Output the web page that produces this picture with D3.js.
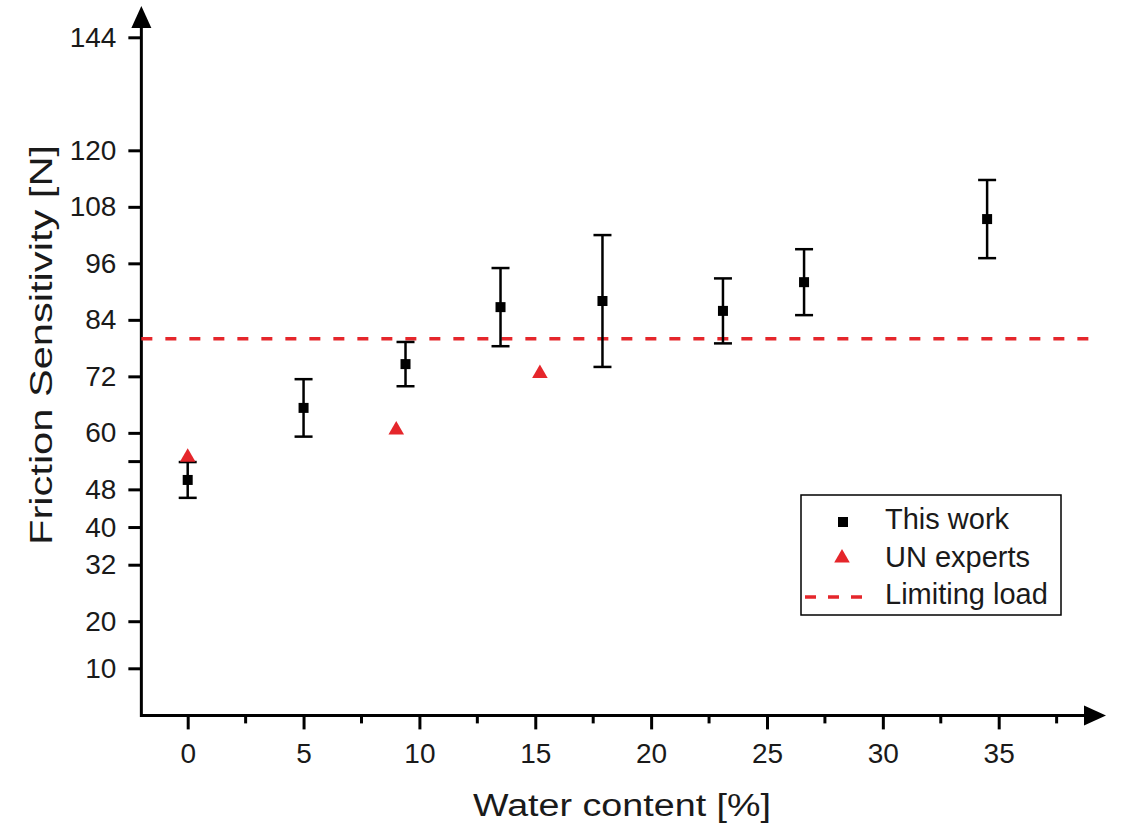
<!DOCTYPE html>
<html>
<head>
<meta charset="utf-8">
<title>Friction sensitivity</title>
<script src="https://d3js.org/d3.v7.min.js"></script>
<style>
  body { margin: 0; background: #fff; }
  text { font-family: "Liberation Sans", Arial, sans-serif; fill: #1a1a1a; }
  .tick text { font-size: 28px; }
  .title { font-size: 31px; }
  .leg { font-size: 29px; }
</style>
</head>
<body>
<script>
// this work: water content, mean load, error (+/-)
var workX = [0, 5, 9.4, 13.5, 17.9, 23.1, 26.6, 34.5];
var workY = [50, 65.3, 74.6, 86.7, 88, 85.9, 92, 105.4];
var workErr = [3.8, 6.1, 4.7, 8.3, 14, 6.9, 7, 8.3];
// UN experts
var unX = [0, 9, 15.2];
var unY = [54.8, 60.6, 72.6];
var limitLoad = 80;
var yTicks = [10, 20, 32, 40, 48, 54, 60, 72, 84, 96, 108, 120, 144];
var xTicks = [0, 5, 10, 15, 20, 25, 30, 35];
var xMinor = [2.5, 7.5, 12.5, 17.5, 22.5, 27.5, 32.5, 37.5];
var legendNames = ["This work", "UN experts", "Limiting load"];

var width = 1121, height = 830;
var red = "#e5262b";
var svg = d3.select("body").append("svg").attr("width", width).attr("height", height);

var x = d3.scaleLinear().domain([0, 35]).range([187.7, 998.7]);
var y = d3.scaleLinear().domain([0, 144]).range([715.4, 37.3]);
var x0 = x(-2), yBase = y(0);

// axes lines + arrows
svg.append("line").attr("x1", x0).attr("x2", 1088).attr("y1", yBase).attr("y2", yBase)
  .attr("stroke", "#000").attr("stroke-width", 3);
svg.append("line").attr("x1", x0).attr("x2", x0).attr("y1", yBase + 1.5).attr("y2", 24)
  .attr("stroke", "#000").attr("stroke-width", 3);
svg.append("path").attr("d", "M1084," + (yBase - 10) + "L1106," + yBase + "L1084," + (yBase + 10) + "Z");
svg.append("path").attr("d", "M" + (x0 - 10) + ",28L" + x0 + ",6L" + (x0 + 10) + ",28Z");

// y axis
var yAxis = d3.axisLeft(y).tickValues(yTicks).tickSize(13).tickPadding(12)
  .tickFormat(function(d) { return d == 54 ? "" : d; });
var gy = svg.append("g").attr("transform", "translate(" + x0 + ",0)").call(yAxis);
gy.select(".domain").remove();
gy.selectAll(".tick line").attr("stroke", "#000").attr("stroke-width", 3);
gy.selectAll(".tick text").attr("fill", "#1a1a1a");

// x axis
var xAxis = d3.axisBottom(x).tickValues(xTicks).tickSize(14).tickPadding(14);
var gx = svg.append("g").attr("transform", "translate(0," + yBase + ")").call(xAxis);
gx.select(".domain").remove();
gx.selectAll(".tick line").attr("stroke", "#000").attr("stroke-width", 3);
gx.selectAll(".tick text").attr("fill", "#1a1a1a");
svg.append("g").selectAll("line").data(xMinor).enter().append("line")
  .attr("x1", function(d) { return x(d); }).attr("x2", function(d) { return x(d); })
  .attr("y1", yBase).attr("y2", yBase + 8)
  .attr("stroke", "#000").attr("stroke-width", 3);

// titles (the source lettering is wide, so stretch to the measured length)
svg.append("text").attr("class", "title").attr("x", 473).attr("y", 816)
  .attr("textLength", 298).attr("lengthAdjust", "spacingAndGlyphs")
  .text("Water content [%]");
svg.append("text").attr("class", "title").attr("transform", "translate(52,545) rotate(-90)")
  .attr("textLength", 400).attr("lengthAdjust", "spacingAndGlyphs")
  .text("Friction Sensitivity [N]");

// limiting load
svg.append("line").attr("x1", x0).attr("x2", 1090).attr("y1", y(limitLoad)).attr("y2", y(limitLoad))
  .attr("stroke", red).attr("stroke-width", 3.5).attr("stroke-dasharray", "11,13");

// error bars
var work = workX.map(function(d, i) { return { x: d, y: workY[i], e: workErr[i] }; });
var eb = svg.append("g").selectAll("g").data(work).enter().append("g");
eb.append("line")
  .attr("x1", function(d) { return x(d.x); }).attr("x2", function(d) { return x(d.x); })
  .attr("y1", function(d) { return y(d.y + d.e); }).attr("y2", function(d) { return y(d.y - d.e); })
  .attr("stroke", "#000").attr("stroke-width", 2.5);
[1, -1].forEach(function(s) {
  eb.append("line")
    .attr("x1", function(d) { return x(d.x) - 9; }).attr("x2", function(d) { return x(d.x) + 9; })
    .attr("y1", function(d) { return y(d.y + s * d.e); }).attr("y2", function(d) { return y(d.y + s * d.e); })
    .attr("stroke", "#000").attr("stroke-width", 2.5);
});

// UN experts triangles
var tri = d3.symbol().type(d3.symbolTriangle).size(105);
svg.append("g").selectAll("path").data(unX).enter().append("path")
  .attr("d", tri)
  .attr("transform", function(d, i) { return "translate(" + x(d) + "," + y(unY[i]) + ")"; })
  .attr("fill", red);

// squares
svg.append("g").selectAll("rect").data(work).enter().append("rect")
  .attr("x", function(d) { return x(d.x) - 5; }).attr("y", function(d) { return y(d.y) - 5; })
  .attr("width", 10).attr("height", 10).attr("fill", "#000");

// legend
var lg = svg.append("g");
lg.append("rect").attr("x", 801).attr("y", 495).attr("width", 260).attr("height", 120)
  .attr("fill", "#fff").attr("stroke", "#000").attr("stroke-width", 1.5);
lg.append("rect").attr("x", 838).attr("y", 517).attr("width", 10).attr("height", 10).attr("fill", "#000");
lg.append("path").attr("d", tri).attr("transform", "translate(842,558)").attr("fill", red);
lg.append("line").attr("x1", 805).attr("x2", 862).attr("y1", 597).attr("y2", 597)
  .attr("stroke", red).attr("stroke-width", 3.5).attr("stroke-dasharray", "11,12");
lg.selectAll("text.leg").data(legendNames).enter().append("text")
  .attr("class", "leg").attr("x", 885).attr("y", function(d, i) { return 529 + i * 37.5; })
  .text(function(d) { return d; });
</script>
</body>
</html>
